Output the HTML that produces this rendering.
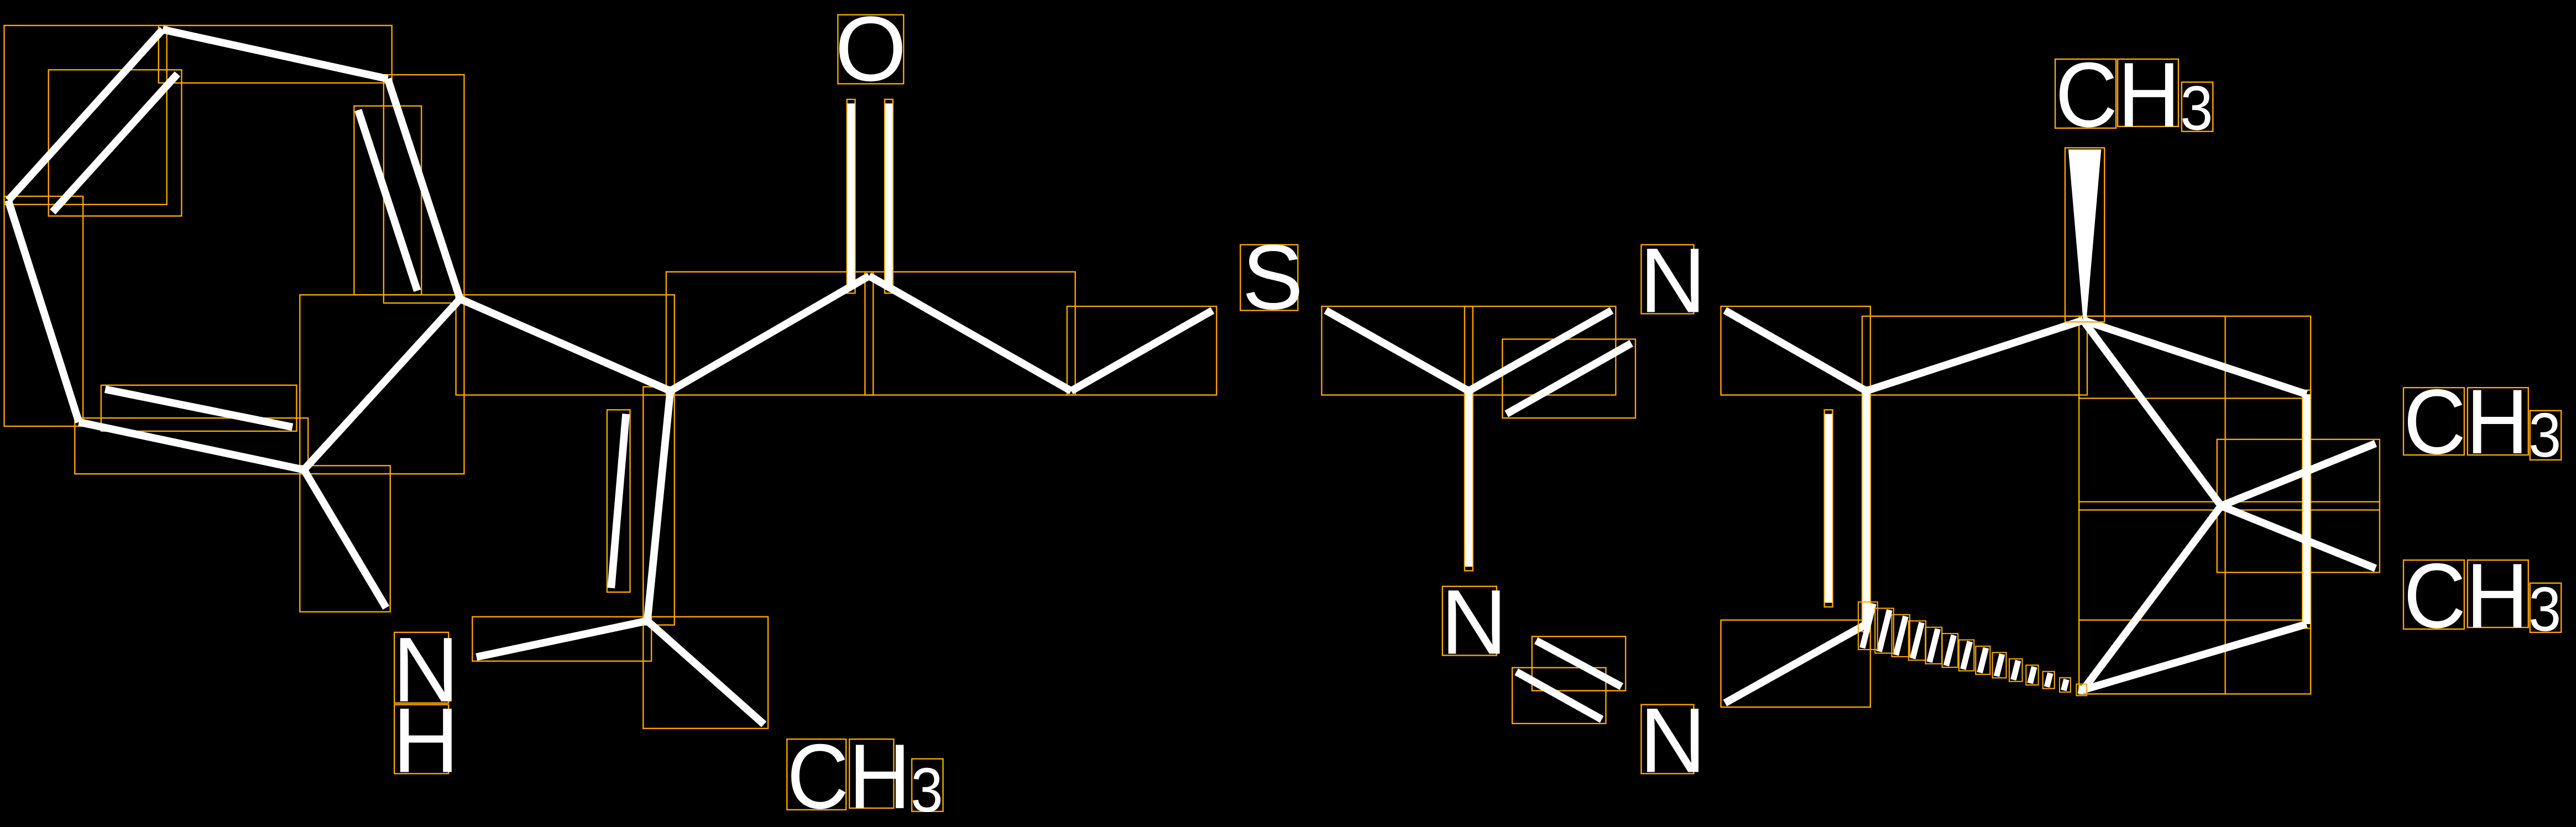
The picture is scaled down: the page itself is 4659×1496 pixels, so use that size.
<!DOCTYPE html>
<html><head><meta charset="utf-8"><style>
html,body{margin:0;padding:0;background:#000;}
svg{display:block}
text{font-family:"Liberation Sans",sans-serif;fill:#fff}
</style></head><body>
<svg id="s" width="4659" height="1496" viewBox="0 0 1568 503.5" xmlns="http://www.w3.org/2000/svg">
<rect width="1568" height="503.5" fill="#000"/>
<g id="bb" fill="none" stroke="#FFA500" stroke-width="0.8"></g>
<g id="bonds" stroke="#fff" stroke-width="4.6" stroke-linecap="butt">
<line x1="5" y1="122" x2="99" y2="18"/>
<line x1="99" y1="18" x2="236" y2="48"/>
<line x1="236" y1="48" x2="280" y2="182"/>
<line x1="280" y1="182" x2="185" y2="286"/>
<line x1="185" y1="286" x2="48" y2="257"/>
<line x1="48" y1="257" x2="5" y2="122"/>
<line x1="32" y1="129" x2="108" y2="45"/>
<line x1="218" y1="67" x2="254" y2="177"/>
<line x1="64" y1="237" x2="178" y2="260"/>
<line x1="185" y1="286" x2="235" y2="370"/>
<line x1="280" y1="182" x2="408" y2="238"/>
<line x1="408" y1="238" x2="529" y2="168"/>
<line x1="529" y1="168" x2="652" y2="238"/>
<line x1="652" y1="238" x2="738" y2="189"/>
<line x1="518" y1="63" x2="518" y2="176"/>
<line x1="541" y1="63" x2="541" y2="176"/>
<line x1="408" y1="238" x2="394" y2="378"/>
<line x1="381" y1="252" x2="372" y2="358"/>
<line x1="394" y1="378" x2="290" y2="400"/>
<line x1="394" y1="378" x2="465" y2="441"/>
<line x1="807" y1="189" x2="894" y2="238"/>
<line x1="894" y1="238" x2="981" y2="189"/>
<line x1="917" y1="252" x2="993" y2="209"/>
<line x1="894" y1="238" x2="894" y2="345"/>
<line x1="935" y1="390" x2="987" y2="418"/>
<line x1="923" y1="409" x2="975" y2="438"/>
<line x1="1050" y1="189" x2="1136" y2="238"/>
<line x1="1136" y1="238" x2="1268" y2="195"/>
<line x1="1136" y1="238" x2="1136" y2="382"/>
<line x1="1113" y1="252" x2="1113" y2="367"/>
<line x1="1136" y1="380" x2="1050" y2="428"/>
<line x1="1268" y1="195" x2="1404" y2="240"/>
<line x1="1404" y1="240" x2="1404" y2="380"/>
<line x1="1404" y1="380" x2="1268" y2="420"/>
<line x1="1268" y1="195" x2="1352" y2="308"/>
<line x1="1352" y1="308" x2="1268" y2="420"/>
<line x1="1352" y1="308" x2="1446" y2="270"/>
<line x1="1352" y1="308" x2="1446" y2="346"/>
</g>
<polygon points="1259,91 1279,91 1270,195 1268,195" fill="#fff"/>
<rect x="1257" y="90" width="24" height="106" fill="none" stroke="#FFA500" stroke-width="0.8"/>
<g id="hash" stroke="#fff" stroke-width="3.6"></g>
<g id="hb" fill="none" stroke="#FFA500" stroke-width="0.7"></g>
<g fill="none" stroke="#FFA500" stroke-width="0.8">
<rect x="510" y="9" width="40" height="42"/>
<rect x="755" y="149" width="35" height="40"/>
<rect x="999" y="149" width="32" height="42"/>
<rect x="878" y="357" width="33" height="42"/>
<rect x="999" y="429" width="32" height="42"/>
<rect x="240" y="385" width="33" height="43"/>
<rect x="240" y="429" width="33" height="42"/>
<rect x="479" y="450" width="36" height="43"/><rect x="517" y="450" width="27" height="42"/><rect x="555" y="462" width="19" height="32"/>
<rect x="1251" y="36" width="37" height="42"/><rect x="1289" y="36" width="37" height="41"/><rect x="1328" y="50" width="19" height="30"/>
<rect x="1463" y="236" width="37" height="41"/><rect x="1502" y="236" width="37" height="41"/><rect x="1540" y="250" width="19" height="30"/>
<rect x="1463" y="341" width="37" height="42"/><rect x="1502" y="341" width="37" height="41"/><rect x="1540" y="355" width="19" height="30"/>
</g>
<g font-size="56">
<text x="530" y="49" text-anchor="middle">O</text>
<text x="756" y="188">S</text>
<text x="998" y="190">N</text>
<text x="877" y="398">N</text>
<text x="998" y="470">N</text>
<text x="239" y="427">N</text>
<text x="239" y="470">H</text>
<text x="479" y="492" textLength="95" lengthAdjust="spacingAndGlyphs">CH<tspan font-size="38" dy="2">3</tspan></text>
<text x="1251" y="77" textLength="96" lengthAdjust="spacingAndGlyphs">CH<tspan font-size="38" dy="2">3</tspan></text>
<text x="1463" y="276" textLength="96" lengthAdjust="spacingAndGlyphs">CH<tspan font-size="38" dy="2">3</tspan></text>
<text x="1463" y="382" textLength="96" lengthAdjust="spacingAndGlyphs">CH<tspan font-size="38" dy="2">3</tspan></text>
</g>
</svg>
<script>
(function(){
var ns="http://www.w3.org/2000/svg";
var bb=document.getElementById("bb");
var ls=document.querySelectorAll("#bonds line");
for(var i=0;i<ls.length;i++){
 var l=ls[i];
 var x1=+l.getAttribute("x1"),y1=+l.getAttribute("y1"),x2=+l.getAttribute("x2"),y2=+l.getAttribute("y2");
 var r=document.createElementNS(ns,"rect");
 var p=2.5;
 r.setAttribute("x",Math.min(x1,x2)-p);r.setAttribute("y",Math.min(y1,y2)-p);
 r.setAttribute("width",Math.abs(x2-x1)+2*p);r.setAttribute("height",Math.abs(y2-y1)+2*p);
 bb.appendChild(r);
}
var h=document.getElementById("hash"),hb=document.getElementById("hb");
var n=14;
for(var k=0;k<n;k++){
 var t=k/(n-1);
 var x=1137+130*t,y=381+39*t;
 var hl=11*(1-t)+2.5;
 var a=document.createElementNS(ns,"line");
 a.setAttribute("x1",x+0.25*hl);a.setAttribute("y1",y-hl);
 a.setAttribute("x2",x-0.25*hl);a.setAttribute("y2",y+hl);
 h.appendChild(a);
 var r=document.createElementNS(ns,"rect");
 r.setAttribute("x",x-0.25*hl-2.5);r.setAttribute("y",y-hl-1);
 r.setAttribute("width",0.5*hl+5);r.setAttribute("height",2*hl+2);
 hb.appendChild(r);
}
})();
</script>
</body></html>
